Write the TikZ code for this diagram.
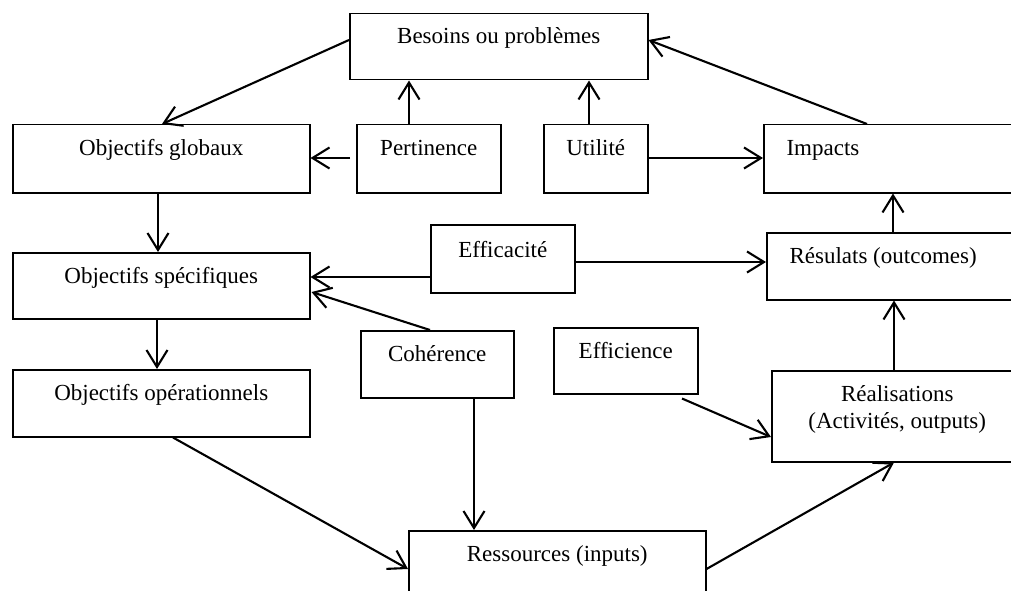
\documentclass[tikz,border=0pt]{standalone}
\usepackage{fontspec}
\setmainfont{Liberation Serif}
\usetikzlibrary{arrows.meta,calc}
\begin{document}
\begin{tikzpicture}[x=1pt,y=-1pt,
  font=\fontsize{23}{27}\selectfont,
  box/.style={draw, line width=1.5pt, rectangle, anchor=north west, inner sep=0pt},
  ctext/.style={label={[anchor=base, yshift=-31pt, align=center]north:#1}},
  ltext/.style={label={[anchor=base west, yshift=-31pt, xshift=20pt]north west:#1}},
  arr/.style={line width=2.1pt, -{Straight Barb[length=17pt,width=21pt,line width=2.1pt]}}
]
\useasboundingbox (0,0) rectangle (1011,591);
\clip (0,0) rectangle (1011,591);

\node[box, minimum width=298pt, minimum height=66pt, ctext={Besoins ou problèmes}] (bes) at (349,13) {};
\node[box, minimum width=297pt, minimum height=68pt, ctext={Objectifs globaux}] (glob) at (12,124) {};
\node[box, minimum width=144pt, minimum height=68pt, ctext={Pertinence}] (pert) at (356,124) {};
\node[box, minimum width=104pt, minimum height=68pt, ctext={Utilité}] (util) at (543,124) {};
\node[box, minimum width=260pt, minimum height=68pt, ltext={Impacts}] (imp) at (763,124) {};
\node[box, minimum width=297pt, minimum height=66pt, ctext={Objectifs spécifiques}] (spec) at (12,252) {};
\node[box, minimum width=144pt, minimum height=68pt, label={[anchor=base, yshift=-33pt]north:Efficacité}] (effa) at (430,224) {};
\node[box, minimum width=260pt, minimum height=67pt, ltext={Résulats (outcomes)}] (res) at (766,232) {};
\node[box, minimum width=153pt, minimum height=67pt, ctext={Cohérence}] (coh) at (360,330) {};
\node[box, minimum width=297pt, minimum height=67pt, ctext={Objectifs opérationnels}] (oper) at (12,369) {};
\node[box, minimum width=144pt, minimum height=66pt, ctext={Efficience}] (effi) at (553,327) {};
\node[box, minimum width=251pt, minimum height=91pt, label={[anchor=base, yshift=-58pt, align=center]north:Réalisations\\(Activités, outputs)}] (real) at (771,370) {};
\node[box, minimum width=297pt, minimum height=80pt, ctext={Ressources (inputs)}] (ress) at (408,530) {};

\draw[arr] ($(bes.north west)+(0,27)$) -- ($(glob.north west)+(150,0)$);
\draw[arr] ($(pert.north west)+(53,0)$) -- ($(bes.south west)+(60,0)$);
\draw[arr] ($(pert.north west)+(-6,34)$) -- ($(glob.north east)+(0,34)$);
\draw[arr] ($(util.north west)+(46,0)$) -- ($(bes.south west)+(240,0)$);
\draw[arr] ($(util.north east)+(0,34)$) -- ($(imp.north west)+(0,34)$);
\draw[arr] ($(imp.north west)+(104,0)$) -- ($(bes.north east)+(0,27)$);
\draw[arr] ($(glob.south west)+(146,0)$) -- ($(spec.north west)+(146,0)$);
\draw[arr] ($(effa.north west)+(0,53)$) -- ($(spec.north east)+(0,25)$);
\draw[arr] ($(effa.north east)+(0,38)$) -- ($(res.north west)+(0,30)$);
\draw[arr] ($(coh.north west)+(70,0)$) -- ($(spec.north east)+(1,40)$);
\draw[arr] ($(res.north west)+(127,0)$) -- ($(imp.south west)+(130,0)$);
\draw[arr] ($(real.north west)+(123,0)$) -- ($(res.south west)+(128,0)$);
\draw[arr] ($(spec.south west)+(145,0)$) -- ($(oper.north west)+(145,0)$);
\draw[arr] ($(oper.south west)+(161,0)$) -- ($(ress.north west)+(0,39)$);
\draw[arr] ($(coh.south west)+(114,0)$) -- ($(ress.north west)+(66,0)$);
\draw[arr] ($(effi.south west)+(129,4)$) -- ($(real.north west)+(0,67)$);
\draw[arr] ($(ress.north east)+(0,39)$) -- ($(real.south west)+(123,0)$);
\end{tikzpicture}
\end{document}
